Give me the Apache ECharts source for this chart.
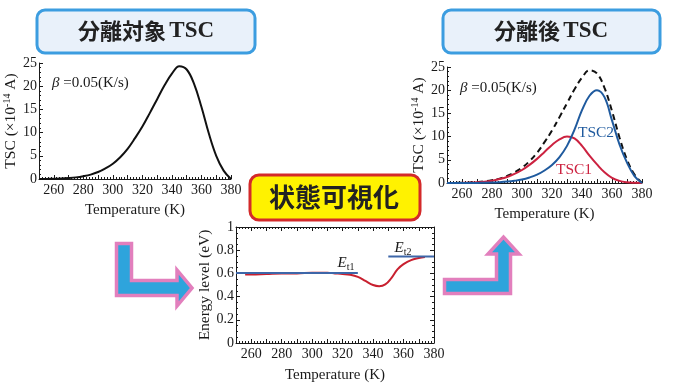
<!DOCTYPE html>
<html><head><meta charset="utf-8">
<script src="https://cdn.jsdelivr.net/npm/echarts@6/dist/echarts.min.js"></script>
<style>html,body{margin:0;padding:0;background:#fff}#c{width:676px;height:390px}</style>
</head><body><div id="c"></div>
<script>
// ---- data ----
const temps    = [250,255,260,265,270,275,280,285,290,295,300,305,310,315,320,325,330,335,340,345,350,355,360,365,370,375,380];
const tscTotal = [0,0.02,0.05,0.1,0.2,0.35,0.6,0.95,1.5,2.3,3.3,4.7,6.5,8.8,11.3,14.2,17.2,20.2,22.7,24.3,23.6,20.5,15.5,9.8,5.0,1.8,0];
const tsc1     = [0,0.01,0.03,0.07,0.15,0.28,0.5,0.85,1.3,1.95,2.8,3.9,5.2,6.7,8.2,9.4,10.0,9.6,8.0,5.9,4.0,2.3,1.1,0.45,0.15,0.04,0];
const tsc2     = [0,0,0,0.01,0.02,0.05,0.1,0.18,0.3,0.48,0.75,1.2,1.8,2.7,3.9,5.6,8.0,11.5,15.7,18.8,20.0,18.5,13.5,8.3,4.4,1.5,0];
const energyT  = [256,260,270,280,290,300,310,315,320,325,330,335,340,344,348,352,356,360,365,370,374];
const energyLv = [0.59,0.59,0.595,0.6,0.6,0.605,0.605,0.6,0.595,0.588,0.57,0.535,0.5,0.49,0.505,0.56,0.635,0.68,0.715,0.732,0.742];
const et1T = [250,330], et1E = [0.603,0.603];
const et2T = [350,380], et2E = [0.745,0.745];
const xTickLabels = [260,280,300,320,340,360,380];

const zip = (a,b)=>a.map((v,i)=>[v,b[i]]);
const SERIF = 'Liberation Serif';
const INK = '#1a1a1a';

function xAxis(gi, opts={}) {
  return Object.assign({
    type:'value', gridIndex:gi, min:250, max:380, interval:10,
    axisLine:{show:true, onZero:false, lineStyle:{color:INK,width:1}},
    axisTick:{show:true, inside:true, length:4, lineStyle:{color:INK}},
    minorTick:{show:true, splitNumber:5, length:2, lineStyle:{color:INK}},
    splitLine:{show:false},
    axisLabel:{show:true, margin:4, color:INK, fontFamily:SERIF, fontSize:14,
      formatter:v=> xTickLabels.includes(v) ? String(v) : ''},
    name:'Temperature (K)', nameLocation:'middle', nameGap:24,
    nameTextStyle:{fontFamily:SERIF, fontSize:15, color:INK}
  }, opts);
}
function yAxisTSC(gi) {
  return {
    type:'value', gridIndex:gi, min:0, max:25, interval:5,
    axisLine:{show:true, lineStyle:{color:INK,width:1}},
    axisTick:{show:true, inside:true, length:4, lineStyle:{color:INK}},
    minorTick:{show:true, splitNumber:5, length:2, lineStyle:{color:INK}},
    splitLine:{show:false},
    axisLabel:{margin:2, color:INK, fontFamily:SERIF, fontSize:14},
    name:'{a|TSC (×10}{s|-14}{a| A)}', nameLocation:'middle', nameGap:19, nameRotate:90,
    nameTextStyle:{rich:{
      a:{fontFamily:SERIF, fontSize:15.5, color:INK, lineHeight:17},
      s:{fontFamily:SERIF, fontSize:10, color:INK, lineHeight:17, verticalAlign:'top'}
    }}
  };
}

const chart = echarts.init(document.getElementById('c'), null, {renderer:'canvas'});
chart.setOption({
  animation:false,
  backgroundColor:'#fff',
  grid:[
    {left:39, top:63, width:192, height:116},
    {left:447, top:67, width:195, height:116},
    {left:236, top:227, width:198, height:116}
  ],
  xAxis:[
    xAxis(0),
    xAxis(1),
    xAxis(2, {nameGap:25}),
    xAxis(2, {position:'top', axisLabel:{show:false}, name:''})
  ],
  yAxis:[
    yAxisTSC(0),
    yAxisTSC(1),
    {type:'value', gridIndex:2, min:0, max:1, interval:0.2,
     axisLine:{show:true, lineStyle:{color:INK,width:1}},
     axisTick:{show:true, inside:true, length:4, lineStyle:{color:INK}},
     minorTick:{show:true, splitNumber:4, length:2, lineStyle:{color:INK}},
     splitLine:{show:false},
     axisLabel:{margin:2, color:INK, fontFamily:SERIF, fontSize:14},
     name:'Energy level (eV)', nameLocation:'middle', nameGap:20, nameRotate:90,
     nameTextStyle:{fontFamily:SERIF, fontSize:15.5, color:INK}},
    {type:'value', gridIndex:2, min:0, max:1, interval:0.2, position:'right',
     axisLine:{show:true, lineStyle:{color:INK,width:1}},
     axisTick:{show:true, inside:true, length:4, lineStyle:{color:INK}},
     minorTick:{show:true, splitNumber:4, length:2, lineStyle:{color:INK}},
     splitLine:{show:false}, axisLabel:{show:false}}
  ],
  series:[
    {type:'line', xAxisIndex:0, yAxisIndex:0, data:zip(temps,tscTotal), smooth:0.4, showSymbol:false,
     lineStyle:{color:'#111', width:2}},
    {type:'line', xAxisIndex:1, yAxisIndex:1, data:zip(temps,tscTotal), smooth:0.4, showSymbol:false,
     lineStyle:{color:'#111', width:2, type:[6,4]}},
    {type:'line', xAxisIndex:1, yAxisIndex:1, data:zip(temps,tsc1), smooth:0.4, showSymbol:false,
     lineStyle:{color:'#cc2240', width:2}},
    {type:'line', xAxisIndex:1, yAxisIndex:1, data:zip(temps,tsc2), smooth:0.4, showSymbol:false,
     lineStyle:{color:'#1f5a9e', width:2}},
    {type:'line', xAxisIndex:2, yAxisIndex:2, data:zip(energyT,energyLv), smooth:0.4, showSymbol:false,
     lineStyle:{color:'#c8202f', width:2}},
    {type:'line', xAxisIndex:2, yAxisIndex:2, data:zip(et1T,et1E), showSymbol:false,
     lineStyle:{color:'#3d66a8', width:2}},
    {type:'line', xAxisIndex:2, yAxisIndex:2, data:zip(et2T,et2E), showSymbol:false,
     lineStyle:{color:'#3d66a8', width:2}}
  ],
  graphic:[
    // title boxes
    {type:'rect', shape:{x:37,y:10,width:218,height:43,r:8}, style:{fill:'#e9f1fa', stroke:'#3c9de0', lineWidth:3}},
    {type:'text', x:146, y:31, style:{text:'{j|分離対象} {t|TSC}', align:'center', verticalAlign:'middle',
      rich:{j:{fontFamily:'Noto Sans CJK JP', fontWeight:'bold', fontSize:22, fill:'#222'},
            t:{fontFamily:SERIF, fontWeight:'bold', fontSize:23, fill:'#222'}}}},
    {type:'rect', shape:{x:443,y:10,width:217,height:43,r:8}, style:{fill:'#e9f1fa', stroke:'#3c9de0', lineWidth:3}},
    {type:'text', x:551, y:31, style:{text:'{j|分離後} {t|TSC}', align:'center', verticalAlign:'middle',
      rich:{j:{fontFamily:'Noto Sans CJK JP', fontWeight:'bold', fontSize:22, fill:'#222'},
            t:{fontFamily:SERIF, fontWeight:'bold', fontSize:23, fill:'#222'}}}},
    {type:'rect', shape:{x:250,y:175,width:170,height:45,r:9}, style:{fill:'#fff200', stroke:'#d42a2a', lineWidth:3}},
    {type:'text', x:334, y:197, style:{text:'状態可視化', align:'center', verticalAlign:'middle',
      fontFamily:'Noto Sans CJK JP', fontWeight:'bold', fontSize:26, fill:'#222'}},
    // beta labels
    {type:'text', x:52, y:83, style:{text:'{b|β} =0.05(K/s)', verticalAlign:'middle',
      fontFamily:SERIF, fontSize:15, fill:INK, rich:{b:{fontFamily:SERIF, fontStyle:'italic', fontSize:15, fill:INK}}}},
    {type:'text', x:460, y:88, style:{text:'{b|β} =0.05(K/s)', verticalAlign:'middle',
      fontFamily:SERIF, fontSize:15, fill:INK, rich:{b:{fontFamily:SERIF, fontStyle:'italic', fontSize:15, fill:INK}}}},
    // curve labels
    {type:'text', x:596, y:133, style:{text:'TSC2', align:'center', verticalAlign:'middle', fontFamily:SERIF, fontSize:15.5, fill:'#1f5a9e'}},
    {type:'text', x:574, y:170, style:{text:'TSC1', align:'center', verticalAlign:'middle', fontFamily:SERIF, fontSize:15.5, fill:'#cc2240'}},
    {type:'text', x:346, y:263, style:{text:'{e|E}{s|t1}', align:'center', verticalAlign:'middle',
      rich:{e:{fontFamily:SERIF, fontStyle:'italic', fontSize:15, fill:INK, lineHeight:18},
            s:{fontFamily:SERIF, fontSize:10, fill:INK, lineHeight:18, verticalAlign:'bottom'}}}},
    {type:'text', x:403, y:248, style:{text:'{e|E}{s|t2}', align:'center', verticalAlign:'middle',
      rich:{e:{fontFamily:SERIF, fontStyle:'italic', fontSize:15, fill:INK, lineHeight:18},
            s:{fontFamily:SERIF, fontSize:10, fill:INK, lineHeight:18, verticalAlign:'bottom'}}}},
    // arrows
    {type:'polygon', shape:{points:[[116.5,243.5],[131.5,243.5],[131.5,280.5],[177,280.5],[177,270],[192,288],[177,306],[177,295.5],[116.5,295.5]]},
     style:{fill:'#2ea4dc', stroke:'#e27fbd', lineWidth:3.5, lineJoin:'miter'}},
    {type:'polygon', shape:{points:[[444.5,279.5],[496.5,279.5],[496.5,254],[488,254],[503.5,237],[519,254],[510.5,254],[510.5,293.5],[444.5,293.5]]},
     style:{fill:'#2ea4dc', stroke:'#e27fbd', lineWidth:3.5, lineJoin:'miter'}}
  ]
});
</script></body></html>
